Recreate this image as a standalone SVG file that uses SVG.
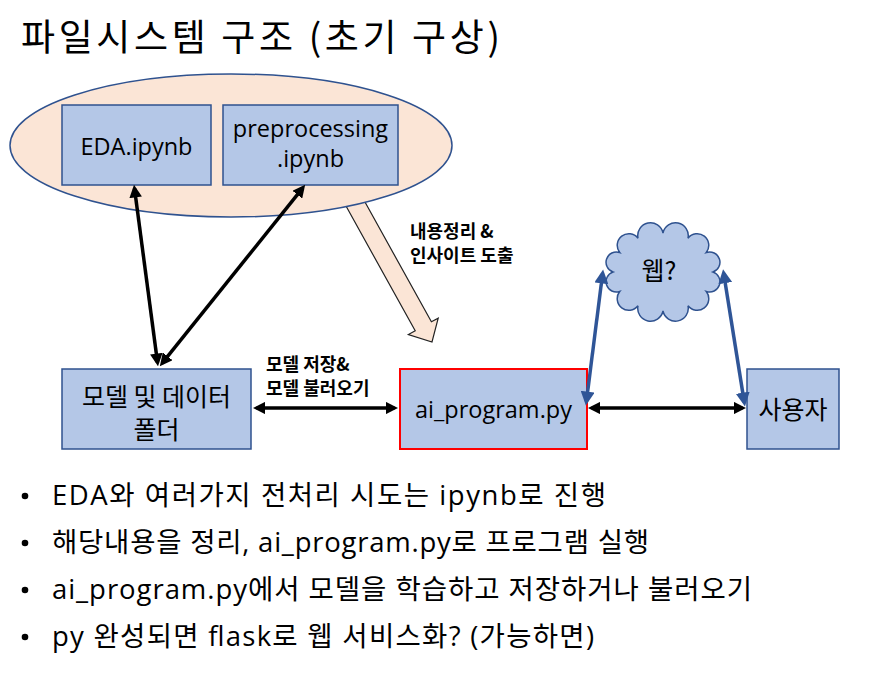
<svg xmlns="http://www.w3.org/2000/svg" width="874" height="674" viewBox="0 0 874 674">
  <defs>
    <style>
      text { font-family: "Open Sans", "Noto Sans CJK KR", sans-serif; fill: #000; }
      .ko { font-family: "Noto Sans CJK KR", "Open Sans", sans-serif; }
      .box { fill: #B4C7E7; stroke: #2F528F; stroke-width: 1.5; }
      .node { font-size: 23.5px; text-anchor: middle; }
      .node-ko { font-family: "Noto Sans CJK KR", sans-serif; font-size: 25px; text-anchor: middle; }
      .lbl { font-family: "Noto Sans CJK KR", sans-serif; font-size: 18px; font-weight: bold; }
      .bullet { font-size: 27.5px; }
      .blk { stroke: #000; stroke-width: 3.5; fill: none; marker-start: url(#ahBlack); marker-end: url(#ahBlack); }
      .blu { stroke: #2F5597; stroke-width: 3.5; fill: none; marker-start: url(#ahBlue); marker-end: url(#ahBlue); }
    </style>
    <marker id="ahBlack" viewBox="0 0 10 10" refX="7" refY="5" markerWidth="3.6" markerHeight="3.6" orient="auto-start-reverse" markerUnits="strokeWidth">
      <path d="M0,0 L10,5 L0,10 z" fill="#000"/>
    </marker>
    <marker id="ahBlue" viewBox="0 0 10 10" refX="7" refY="5" markerWidth="4" markerHeight="4" orient="auto-start-reverse" markerUnits="strokeWidth">
      <path d="M0,0 L10,5 L0,10 z" fill="#2F5597"/>
    </marker>
  </defs>

  <rect width="874" height="674" fill="#fff"/>

  <!-- title -->
  <text class="ko" x="21" y="51" font-size="37" textLength="479" lengthAdjust="spacing">파일시스템 구조 (초기 구상)</text>

  <!-- block arrow: insight extraction -->
  <polygon id="insight-arrow" points="343.1,200.8 415.2,330.8 408.4,334.5 432,342 438.2,318.1 431.4,321.8 359.3,191.8" fill="#FBE5D6" stroke="#222" stroke-width="1.2" stroke-linejoin="miter"/>

  <!-- notebook group -->
  <g id="notebooks">
    <ellipse cx="231" cy="145.5" rx="221" ry="71.5" fill="#FBE5D6" stroke="#2F528F" stroke-width="1.5"/>
  </g>

  <g id="eda">
    <rect class="box" x="62" y="105" width="149" height="80"/>
    <text class="node" x="136.5" y="155">EDA.ipynb</text>
  </g>

  <g id="preprocessing">
    <rect class="box" x="223" y="105" width="175" height="80"/>
    <text class="node" x="310.5" y="137">preprocessing</text>
    <text class="node" x="310.5" y="167">.ipynb</text>
  </g>

  <g id="model-folder">
    <rect class="box" x="62" y="369" width="189" height="80"/>
    <text class="node-ko" x="156.5" y="406">모델 및 데이터</text>
    <text class="node-ko" x="156.5" y="439">폴더</text>
  </g>

  <g id="ai-program">
    <rect x="400" y="369" width="187" height="80" fill="#B4C7E7" stroke="#FF0000" stroke-width="2"/>
    <text class="node" x="493.5" y="418">ai_program.py</text>
  </g>

  <g id="user">
    <rect class="box" x="747" y="369" width="92" height="80"/>
    <text class="node-ko" x="793" y="419">사용자</text>
  </g>

  <g id="web">
    <path d="M713,272 A1,1 0 0 1 706.3,291.5 A1,1 0 0 1 688,305.8 A1,1 0 0 1 663,311 A1,1 0 0 1 638,305.8 A1,1 0 0 1 619.7,291.5 A1,1 0 0 1 613,272 A1,1 0 0 1 619.7,252.5 A1,1 0 0 1 638,238.2 A1,1 0 0 1 663,233 A1,1 0 0 1 688,238.2 A1,1 0 0 1 706.3,252.5 A1,1 0 0 1 713,272 Z" fill="#B4C7E7" stroke="#2F528F" stroke-width="1.5"/>
    <text class="ko" x="659" y="280" font-size="25" text-anchor="middle">웹?</text>
  </g>

  <!-- connectors -->
  <g id="connectors">
    <line class="blk" x1="134.5" y1="188.6" x2="157.5" y2="362.4"/>
    <line class="blk" x1="302.8" y1="187.8" x2="162.2" y2="363.2"/>
    <line class="blk" x1="256.6" y1="408" x2="394.4" y2="408"/>
    <line class="blk" x1="591.6" y1="408" x2="742.4" y2="408"/>
    <line class="blu" x1="586.4" y1="401.4" x2="602.6" y2="273.6"/>
    <line class="blu" x1="723.7" y1="273.5" x2="744.3" y2="402.4"/>
  </g>

  <!-- connector labels -->
  <text class="lbl" x="410" y="238">내용정리 &amp;</text>
  <text class="lbl" x="410" y="262">인사이트 도출</text>
  <text class="lbl" x="266" y="371">모델 저장&amp;</text>
  <text class="lbl" x="266" y="395">모델 불러오기</text>

  <!-- notes -->
  <g id="notes">
    <circle cx="25" cy="496" r="3.3"/>
    <text class="bullet" x="52" y="505" textLength="554" lengthAdjust="spacing">EDA와 여러가지 전처리 시도는 ipynb로 진행</text>
    <circle cx="25" cy="543" r="3.3"/>
    <text class="bullet" x="52" y="552" textLength="597" lengthAdjust="spacing">해당내용을 정리, ai_program.py로 프로그램 실행</text>
    <circle cx="25" cy="590" r="3.3"/>
    <text class="bullet" x="52" y="599" textLength="700" lengthAdjust="spacing">ai_program.py에서 모델을 학습하고 저장하거나 불러오기</text>
    <circle cx="25" cy="637" r="3.3"/>
    <text class="bullet" x="52" y="646" textLength="542" lengthAdjust="spacing">py 완성되면 flask로 웹 서비스화? (가능하면)</text>
  </g>
</svg>
